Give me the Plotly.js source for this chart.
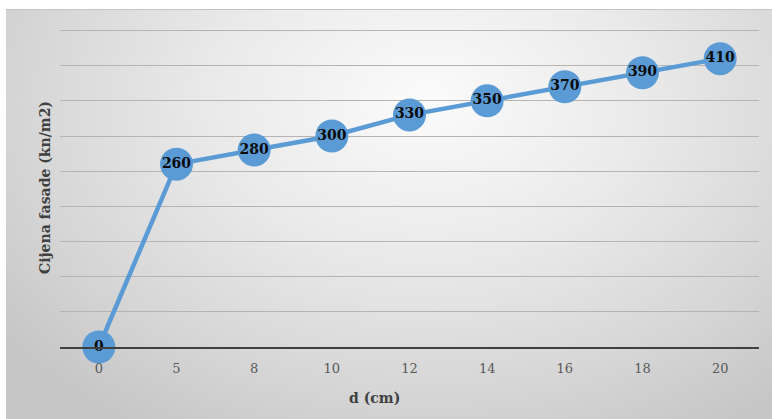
<!DOCTYPE html>
<html>
<head>
<meta charset="utf-8">
<script src="https://cdn.plot.ly/plotly-3.0.1.min.js"></script>
<style>
  html, body { margin: 0; padding: 0; background: #ffffff; }
  #wrap { position: relative; width: 772px; height: 419px; background: #ffffff; }
  #bg { position: absolute; left: 6px; top: 9px; width: 766px; height: 410px;
        background: radial-gradient(ellipse 70% 95% at 55% 22%, #fbfbfb 0%, #eaeaea 40%, #d6d6d6 75%, #c6c6c6 100%);
        border-top: 1px solid #c4c4c4; box-sizing: border-box; }
  #chart { position: absolute; left: 0; top: 0; width: 772px; height: 419px; }
</style>
</head>
<body>
<div id="wrap">
  <div id="bg"></div>
  <div id="chart"></div>
</div>
<script>
const categories = ["0", "5", "8", "10", "12", "14", "16", "18", "20"];
const prices = [0, 260, 280, 300, 330, 350, 370, 390, 410];
const xTitle = "d (cm)";
const yTitle = "Cijena fasade (kn/m2)";

const blue = "#5B9BD5";

const trace = {
  x: categories,
  y: prices,
  type: "scatter",
  mode: "lines+markers+text",
  text: prices.map(String),
  textposition: "middle center",
  textfont: { family: "DejaVu Serif", size: 14, color: "#0a0a0a", weight: "bold" },
  texttemplate: "<b>%{text}</b>",
  line: { color: blue, width: 4.5 },
  marker: { color: blue, size: 33, line: { width: 0 } },
  cliponaxis: false,
  hoverinfo: "skip"
};

const layout = {
  width: 772,
  height: 419,
  margin: { l: 60, r: 13, t: 27, b: 72 },
  paper_bgcolor: "rgba(0,0,0,0)",
  plot_bgcolor: "rgba(0,0,0,0)",
  showlegend: false,
  xaxis: {
    type: "category",
    range: [-0.5, 8.5],
    showgrid: false,
    zeroline: false,
    showline: true,
    linecolor: "#404040",
    linewidth: 2,
    ticks: "",
    ticklabelstandoff: 8,
    tickfont: { family: "DejaVu Serif", size: 13, color: "#595959" },
    fixedrange: true
  },
  yaxis: {
    range: [0, 455],
    tick0: 0,
    dtick: 50,
    showgrid: true,
    gridcolor: "#b4b4b4",
    gridwidth: 1,
    zeroline: false,
    showticklabels: false,
    ticks: "",
    fixedrange: true
  },
  annotations: [
    {
      text: "<b>" + yTitle + "</b>",
      xref: "paper", yref: "paper",
      x: -0.0215, y: 0.5,
      xanchor: "center", yanchor: "middle",
      textangle: -90,
      showarrow: false,
      font: { family: "DejaVu Serif", size: 14, color: "#404040" }
    },
    {
      text: "<b>" + xTitle + "</b>",
      xref: "paper", yref: "paper",
      x: 0.4506, y: -0.16,
      xanchor: "center", yanchor: "middle",
      showarrow: false,
      font: { family: "DejaVu Serif", size: 14, color: "#404040" }
    }
  ]
};

Plotly.newPlot("chart", [trace], layout, { displayModeBar: false, staticPlot: true });
</script>
</body>
</html>
